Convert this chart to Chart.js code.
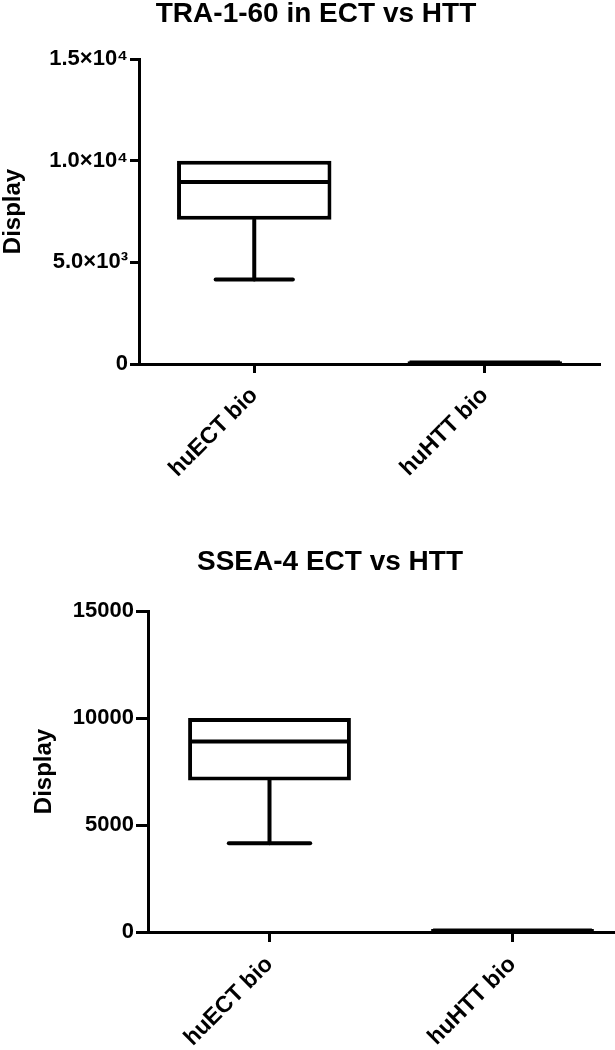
<!DOCTYPE html>
<html>
<head>
<meta charset="utf-8">
<script src="https://cdn.jsdelivr.net/npm/chart.js@4.4.0/dist/chart.umd.min.js"></script>
<style>
  body { margin: 0; background: #fff; overflow: hidden; }
  #chart1 { position: absolute; left: 0; top: 0; }
  #chart2 { position: absolute; left: 0; top: 548px; }
</style>
</head>
<body>
<canvas id="chart1" width="632" height="500"></canvas>
<canvas id="chart2" width="640" height="502"></canvas>
<script>
// Catégories (axe x)
const categories = ['huECT bio', 'huHTT bio'];

// TRA-1-60 : valeurs des boîtes
const traMin = [4150, 5];
const traQ1 = [7100, 10];
const traMedian = [8950, 70];
const traQ3 = [10000, 140];
const traMax = [10000, 160];
const traTicks = ['0', '5.0×10³', '1.0×10⁴', '1.5×10⁴'];

// SSEA-4
const sseaMin = [4150, 5];
const sseaQ1 = [7080, 10];
const sseaMedian = [8900, 70];
const sseaQ3 = [10000, 140];
const sseaMax = [10000, 160];
const sseaTicks = ['0', '5000', '10000', '15000'];

const FONT = '"Liberation Sans", Arial, sans-serif';

// Médiane et moustaches dessinées par-dessus les barres flottantes
const whiskers = {
    id: 'whiskers',
    afterDatasetsDraw(chart, args, opts) {
        const ctx = chart.ctx;
        const y = chart.scales.y;
        const bars = chart.getDatasetMeta(0).data;
        ctx.save();
        ctx.strokeStyle = '#000';
        ctx.lineWidth = 4;
        ctx.lineCap = 'round';
        bars.forEach((bar, i) => {
            const half = bar.width / 2;
            const line = (x1, y1, x2, y2) => {
                ctx.beginPath();
                ctx.moveTo(x1, y1);
                ctx.lineTo(x2, y2);
                ctx.stroke();
            };
            const yMed = y.getPixelForValue(opts.median[i]);
            ctx.lineCap = 'butt';
            line(bar.x - half + 2, yMed, bar.x + half - 2, yMed);
            ctx.lineCap = 'round';
            if (opts.min[i] < opts.q1[i] && y.getPixelForValue(opts.min[i]) - y.getPixelForValue(opts.q1[i]) > 4) {
                const a = y.getPixelForValue(opts.q1[i]);
                const b = y.getPixelForValue(opts.min[i]);
                line(bar.x, a, bar.x, b);
                line(bar.x - half / 2, b, bar.x + half / 2, b);
            }
            if (opts.max[i] > opts.q3[i] && y.getPixelForValue(opts.q3[i]) - y.getPixelForValue(opts.max[i]) > 4) {
                const a = y.getPixelForValue(opts.q3[i]);
                const b = y.getPixelForValue(opts.max[i]);
                line(bar.x, a, bar.x, b);
                line(bar.x - half / 2, b, bar.x + half / 2, b);
            }
        });
        ctx.restore();
    }
};

function makeChart(id, title, q1, q3, median, min, max, tickLabels, lay) {
    const scales = {
        x: {
            grid: { display: true, drawOnChartArea: false, offset: false, color: '#000', tickColor: '#000', tickLength: lay.xTick, tickWidth: 3 },
            border: { color: '#000', width: 3 },
            ticks: { color: '#000', font: { family: FONT, size: 23, weight: 'bold' }, minRotation: 45, maxRotation: 45, autoSkip: false, padding: 9 },
            afterFit: s => { s.height = lay.xHeight; }
        },
        y: {
            min: 0,
            max: 15000,
            grid: { display: true, drawOnChartArea: false, color: '#000', tickColor: '#000', tickLength: lay.yTick, tickWidth: 3 },
            border: { color: '#000', width: 3 },
            ticks: {
                stepSize: 5000,
                color: '#000',
                padding: 2,
                font: { family: FONT, size: 22, weight: 'bold' },
                callback: (v, i) => tickLabels[i]
            },
            title: { display: true, text: 'Display', color: '#000', font: { family: FONT, size: 24, weight: 'bold', lineHeight: 1 }, padding: { top: lay.titlePad, bottom: 0 } },
            afterFit: s => { s.width = lay.yWidth; }
        }
    };
    if (lay.rightPad) {
        scales.pad = {
            type: 'linear', position: 'right', display: true,
            grid: { display: false }, border: { display: false }, ticks: { display: false },
            afterFit: s => { s.width = lay.rightPad; }
        };
    }
    return new Chart(document.getElementById(id), {
        type: 'bar',
        data: {
            labels: categories,
            datasets: [{
                data: categories.map((c, i) => [q1[i], q3[i]]),
                backgroundColor: '#fff',
                borderColor: '#000',
                borderWidth: 4,
                borderSkipped: false,
                barPercentage: 0.67,
                categoryPercentage: 1,
                clip: false
            }]
        },
        options: {
            responsive: false,
            animation: false,
            layout: { padding: { left: lay.left, right: lay.right, top: 0, bottom: 0 } },
            scales: scales,
            plugins: {
                legend: { display: false },
                tooltip: { enabled: false },
                title: {
                    display: true, text: title, color: '#000',
                    font: { family: FONT, size: 28, weight: 'bold', lineHeight: 1 },
                    padding: { top: 0, bottom: lay.titleGap }
                },
                whiskers: { q1: q1, q3: q3, median: median, min: min, max: max }
            }
        },
        plugins: [whiskers]
    });
}

makeChart('chart1', 'TRA-1-60 in ECT vs HTT', traQ1, traQ3, traMedian, traMin, traMax, traTicks,
    { left: 0, right: 0, rightPad: 32, yWidth: 139, xHeight: 136, titleGap: 31, titlePad: 1, xTick: 9, yTick: 9 });

makeChart('chart2', 'SSEA-4 ECT vs HTT', sseaQ1, sseaQ3, sseaMedian, sseaMin, sseaMax, sseaTicks,
    { left: 26, right: 6, rightPad: 0, yWidth: 122, xHeight: 118, titleGap: 35, titlePad: 6, xTick: 10, yTick: 12 });
</script>
</body>
</html>
